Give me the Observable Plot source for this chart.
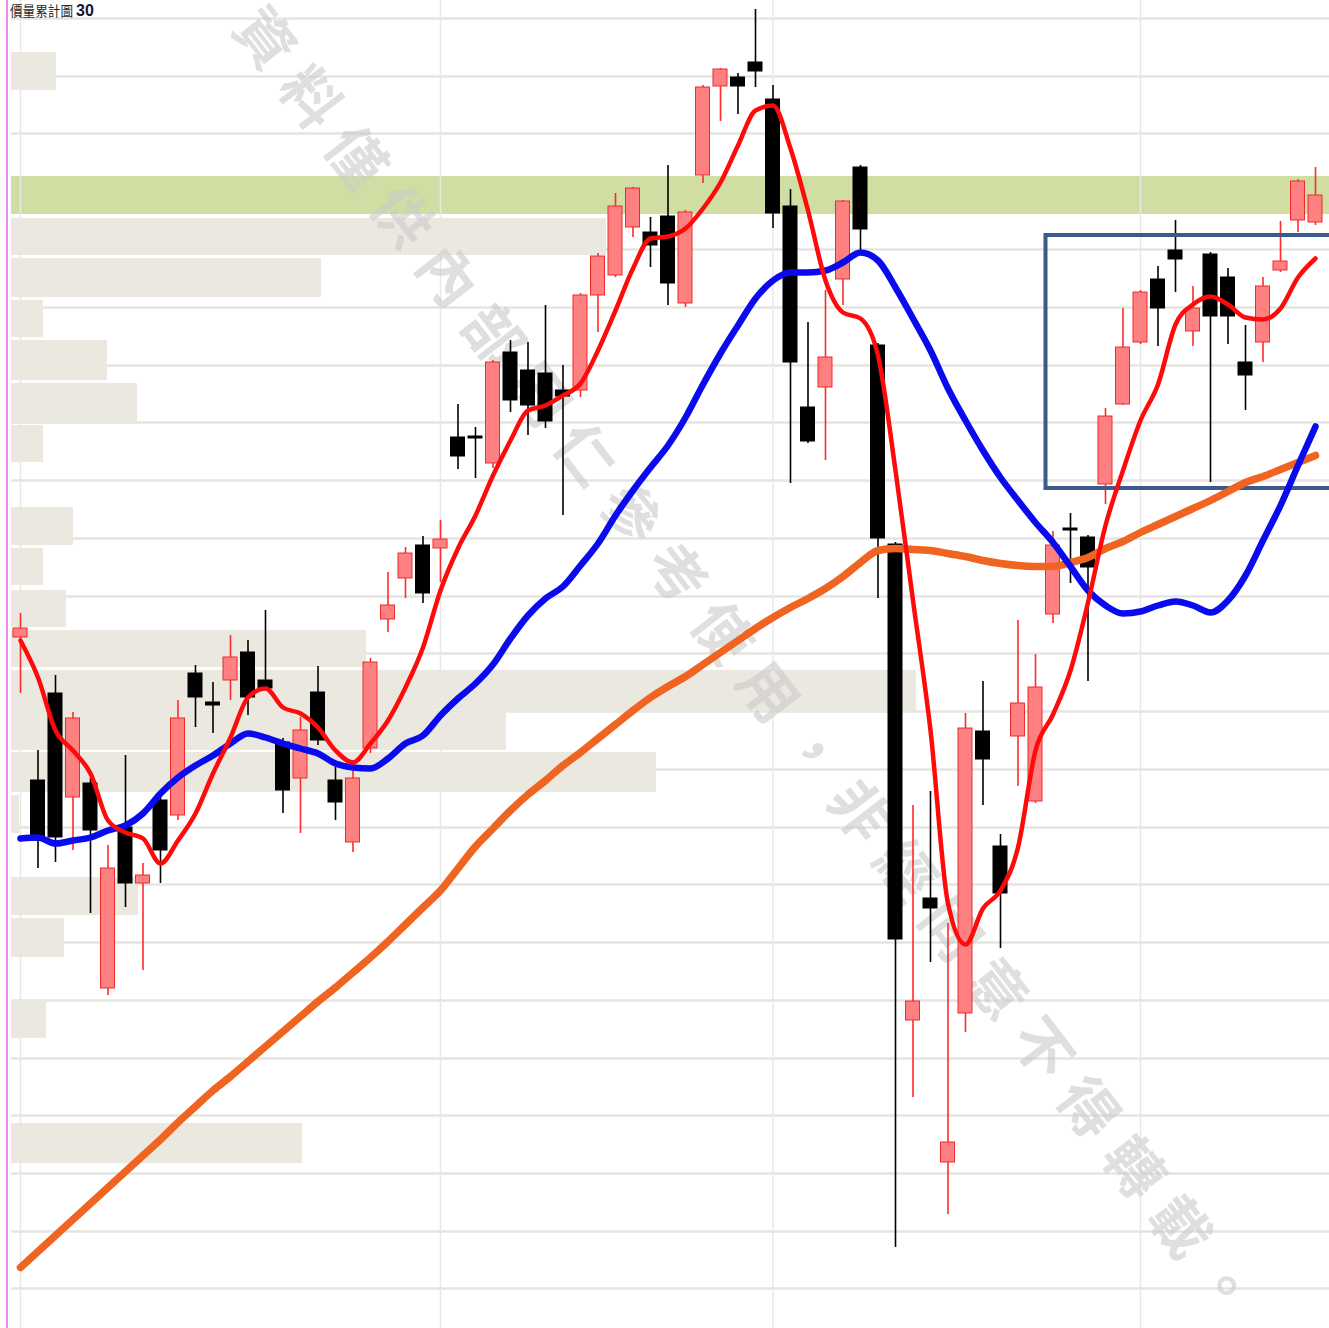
<!DOCTYPE html>
<html><head><meta charset="utf-8">
<script src="https://cdn.jsdelivr.net/npm/d3@7"></script>
<script src="https://cdn.jsdelivr.net/npm/@observablehq/plot@0.6"></script>
<style>
html,body{margin:0;padding:0;background:#fff;overflow:hidden;}
#wrap{position:relative;width:1329px;height:1328px;overflow:hidden;background:#fff;}
#wrap svg{position:absolute;left:0;top:0;}
#edge{position:absolute;left:6px;top:0;width:2px;height:1328px;background:#ee88f4;z-index:5;}
.ttl{position:absolute;white-space:nowrap;line-height:1.2;z-index:6;font-family:"Noto Sans CJK TC","Noto Sans CJK SC",sans-serif;transform-origin:left top;}
#ttlA{left:10px;top:2px;font-size:14px;color:#2a2a2a;transform:scaleX(0.9);}
#ttlB{left:76px;top:1px;font-size:16px;font-weight:bold;color:#141432;font-family:"Liberation Sans",sans-serif;}
</style></head><body>
<div id="wrap"><div id="edge"></div><div class="ttl" id="ttlA">價量累計圖</div><div class="ttl" id="ttlB">30</div></div>
<script>
// ---- candle data (price units), one entry per session ----
const opens = [
  66.3,52.0,60.7,50.3,51.7,31.2,47.3,41.7,50.0,48.5,
  62.7,59.8,62.0,64.8,62.0,55.8,52.2,60.8,52.0,45.8,
  55.2,68.1,72.2,75.5,75.2,86.3,86.4,83.7,94.8,93.0,
  92.7,91.0,91.0,100.5,102.5,107.3,106.8,108.4,99.7,112.5,
  121.4,122.3,123.8,120.1,109.4,89.3,91.3,102.1,113.3,95.5,
  75.6,28.0,40.2,13.8,28.7,56.9,45.4,56.4,49.9,68.6,
  77.2,76.3,81.6,89.6,95.8,102.1,105.0,96.9,104.6,102.3,
  93.8,95.8,103.0,108.0,107.8];
const closes = [
  67.2,46.0,46.3,58.2,47.0,43.2,41.7,42.5,45.0,58.2,
  60.3,59.5,64.3,60.3,61.2,51.0,57.0,56.0,49.8,52.2,
  63.8,69.5,74.7,70.7,76.1,84.4,86.2,93.8,90.0,89.5,
  87.9,90.4,100.5,104.4,109.4,111.2,105.5,101.7,108.8,121.3,
  123.1,121.4,122.9,108.7,93.8,85.9,94.3,109.9,107.1,76.2,
  36.1,29.9,39.2,15.8,57.2,54.1,40.7,59.7,61.3,75.5,
  77.0,73.3,88.4,95.3,100.8,99.2,104.1,99.2,98.4,98.4,
  92.5,101.4,103.9,111.9,110.5];
const highs = [
  68.7,55.0,62.5,58.8,52.2,45.5,54.5,43.7,50.7,60.0,
  63.5,61.8,66.5,66.0,69.0,56.2,58.3,63.4,53.3,54.0,
  64.2,72.8,75.3,76.4,78.0,89.6,87.3,94.0,96.0,95.8,
  99.5,93.5,100.7,104.7,110.7,111.3,108.3,113.5,109.0,121.5,
  123.2,122.7,129.1,121.5,111.1,97.8,101.0,110.0,113.5,95.7,
  75.8,49.5,50.9,37.7,58.7,61.9,46.6,68.0,64.6,76.9,
  78.7,76.5,89.2,99.2,101.0,103.4,108.0,101.4,104.8,103.2,
  97.5,102.3,107.9,112.1,113.3];
const lows = [
  60.7,43.2,43.8,45.0,38.7,30.5,39.3,33.0,41.7,48.0,
  57.3,56.7,60.0,58.5,61.0,48.7,46.7,55.5,48.0,44.8,
  54.7,66.8,70.2,69.7,71.8,83.1,82.2,83.2,88.8,86.5,
  87.2,78.5,90.3,96.8,102.3,106.3,103.3,99.5,99.3,111.7,
  117.9,118.6,121.3,107.2,81.7,85.7,84.0,99.5,105.0,70.2,
  5.3,20.3,33.8,8.6,26.8,49.5,35.2,51.4,49.7,67.7,
  71.7,61.9,79.6,89.5,95.6,95.4,100.8,95.4,81.8,95.6,
  89.0,93.8,102.8,106.8,107.5];

// ---- moving averages ----
const maShort = [
  66.0,62.3,57.0,55.0,52.7,48.0,46.8,46.2,43.7,46.0,
  48.7,52.7,56.3,60.3,61.2,59.3,58.7,57.3,55.0,53.8,
  55.7,58.0,61.3,65.3,71.0,75.2,78.5,82.5,86.0,89.0,
  89.5,90.5,91.7,95.0,99.0,103.2,106.2,106.4,107.2,109.2,
  111.8,115.5,119.0,119.5,115.2,109.0,102.0,98.8,98.2,94.5,
  83.0,70.0,57.0,39.7,35.6,39.2,41.0,45.3,55.0,58.6,
  63.0,69.8,77.5,83.0,88.0,91.6,97.6,99.6,100.4,99.6,
  98.3,98.1,99.2,102.3,104.2];
const maMid = [
  46.2,46.3,45.7,46.0,46.3,47.0,47.5,48.7,50.7,52.3,
  53.5,54.5,55.7,56.7,56.3,55.7,55.2,54.7,53.7,53.3,
  53.2,54.2,55.7,56.5,58.5,60.2,61.7,63.6,66.2,68.5,
  70.2,71.4,73.5,75.7,78.5,81.0,83.3,85.5,88.3,91.6,
  94.7,97.5,100.2,102.0,102.8,102.8,103.0,103.8,104.8,104.0,
  101.3,98.2,95.0,91.2,88.0,85.0,82.3,80.0,77.8,75.8,
  73.4,71.0,69.5,68.7,68.9,69.5,69.9,69.5,68.8,70.0,
  72.5,76.0,79.5,83.5,87.4];
const maLong = [
  3.3,4.9,6.5,8.1,9.7,11.3,12.9,14.5,16.1,17.8,
  19.4,21.0,22.4,23.9,25.4,26.9,28.4,29.9,31.3,32.8,
  34.3,35.9,37.6,39.3,41.0,43.2,45.4,47.2,49.0,50.6,
  52.0,53.5,54.8,56.2,57.6,59.0,60.3,61.4,62.4,63.6,
  64.8,66.0,67.2,68.3,69.3,70.2,71.2,72.4,73.8,75.0,
  75.2,75.1,75.0,74.7,74.4,74.0,73.7,73.5,73.4,73.4,
  73.8,74.3,75.2,75.9,76.8,77.6,78.4,79.2,80.0,80.9,
  81.8,82.4,83.1,83.8,84.5];

// ---- accumulated volume by price (volume profile) ----
const profHigh = [124.8,108.2,104.2,100.0,96.0,91.7,87.5,79.3,75.2,71.0,67.0,63.0,58.8,54.8,50.5,42.3,38.2,30.0,17.7];
const profLow  = [121.0,104.5,100.3, 96.3,92.0,87.8,83.8,75.5,71.5,67.3,63.3,59.0,55.0,50.8,46.7,38.5,34.3,26.2,13.7];
const profVol  = [45,595,310,32,96,126,32,62,32,55,355,905,495,645,8,127,53,35,291];

// highlighted price band, grid levels, date lines, consolidation box
const keyBandLow = 108.6, keyBandHigh = 112.4;
const gridLevels = [128.2,122.4,116.7,110.9,105.1,99.3,93.5,87.8,82.0,76.2,70.4,64.7,58.9,53.1,47.3,41.6,35.8,30.0,24.2,18.5,12.7,6.9,1.2];
const dateLines = [0,24,43,64];
const boxRange = {i1: 58.6, i2: 77, top: 106.5, bottom: 81.2};
const watermarkText = "資料僅供內部同仁參考使用，非經同意不得轉載。";

const Y_DOMAIN = [-2.8, 130];
const W = 1329, H = 1328;

const profile = profLow.map((lo, k) => ({lo, hi: profHigh[k], vol: profVol[k]}));
const candles = opens.map((o, i) => ({i, o, c: closes[i], h: highs[i], l: lows[i], up: closes[i] >= o}));
const ser = arr => arr.map((v, i) => ({i, v}));

const chartA = Plot.plot({
  width: W, height: H, marginTop: 0, marginBottom: 0, marginLeft: 11, marginRight: 0,
  x: {domain: [0, 1318], axis: null},
  y: {domain: Y_DOMAIN, axis: null},
  marks: [
    Plot.ruleY(gridLevels, {stroke: "#e4e4e0", strokeWidth: 2.5}),
    Plot.rect(profile, {x1: 0, x2: "vol", y1: "lo", y2: "hi", fill: "#ebe9df"}),
    Plot.rect([{lo: keyBandLow, hi: keyBandHigh}], {x1: 0, x2: 1318, y1: "lo", y2: "hi", fill: "#d1dea3"})
  ]
});

const chartB = Plot.plot({
  width: W, height: H, marginTop: 0, marginBottom: 0, marginLeft: 20, marginRight: 14,
  style: {background: "transparent"},
  x: {domain: [0, 74], axis: null},
  y: {domain: Y_DOMAIN, axis: null},
  color: {type: "identity"},
  marks: [
    Plot.ruleX(dateLines, {stroke: "#e8e8e8", strokeWidth: 1.5}),
    Plot.text([{t: watermarkText, i: 41.6, v: 63.0}], {
      x: "i", y: "v", text: "t", rotate: 52.4, fontSize: 58, fontWeight: "bold",
      fontFamily: "Noto Sans CJK TC", fill: "#c9c9c9", fillOpacity: 0.6
    }),
    Plot.ruleX(candles, {x: "i", y1: "l", y2: "h", stroke: d => d.up ? "#ff2a2a" : "#000000", strokeWidth: 1.6}),
    Plot.rect(candles, {
      x1: d => d.i - 0.4, x2: d => d.i + 0.4, y1: "o", y2: "c",
      fill: d => d.up ? "#ff8080" : "#000000", stroke: d => d.up ? "#f02a2a" : "#000000", strokeWidth: 1
    }),
    Plot.rect([boxRange], {x1: "i1", x2: "i2", y1: "top", y2: "bottom", fill: "none", stroke: "#3b5b8b", strokeWidth: 4}),
    Plot.line(ser(maLong), {x: "i", y: "v", stroke: "#ee6420", strokeWidth: 7.5, curve: "monotone-x"}),
    Plot.line(ser(maMid), {x: "i", y: "v", stroke: "#0a0aee", strokeWidth: 6.5, curve: "monotone-x"}),
    Plot.line(ser(maShort), {x: "i", y: "v", stroke: "#ff0a0a", strokeWidth: 4.5, curve: "monotone-x"})
  ]
});
chartB.querySelectorAll('g[aria-label="text"] text').forEach(t => t.setAttribute("letter-spacing", "17"));

const wrap = document.getElementById("wrap");
wrap.insertBefore(chartB, wrap.firstChild);
wrap.insertBefore(chartA, wrap.firstChild);
</script>
</body></html>
